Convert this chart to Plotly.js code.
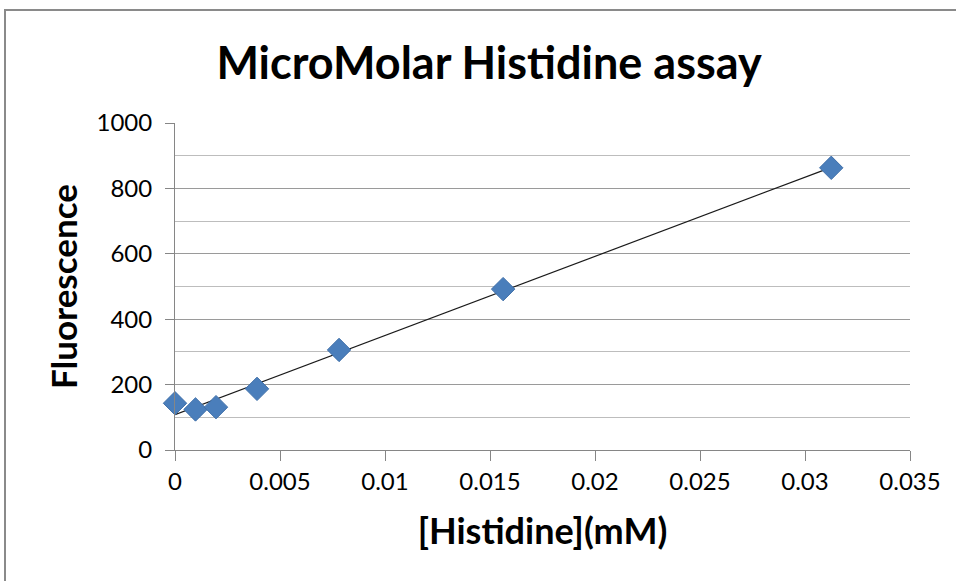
<!DOCTYPE html>
<html>
<head>
<meta charset="utf-8">
<script src="https://cdn.plot.ly/plotly-3.0.1.min.js"></script>
<style>
  html, body { margin: 0; padding: 0; width: 956px; height: 581px; overflow: hidden; background: #fff; }
  #chart { position: absolute; left: 0; top: 0; width: 956px; height: 581px; }
  #frame { position: absolute; left: 4px; top: 9px; width: 1100px; height: 800px;
           border-left: 2px solid #8a8a8a; border-top: 2px solid #8a8a8a; pointer-events: none; }
</style>
</head>
<body>
<div id="chart"></div>
<div id="frame"></div>
<script>
// Data
const histidineMM = [0, 0.0009766, 0.001953, 0.003906, 0.0078125, 0.015625, 0.03125];
const fluorescence = [143, 124, 131, 187, 306, 492, 863];
const xTickVals = [0, 0.005, 0.01, 0.015, 0.02, 0.025, 0.03, 0.035];
const xTickText = ['0', '0.005', '0.01', '0.015', '0.02', '0.025', '0.03', '0.035'];
const yTickVals = [0, 200, 400, 600, 800, 1000];

// Linear least-squares trendline through the data
const n = histidineMM.length;
const mx = histidineMM.reduce((a, b) => a + b, 0) / n;
const my = fluorescence.reduce((a, b) => a + b, 0) / n;
let sxy = 0, sxx = 0;
for (let i = 0; i < n; i++) {
  sxy += (histidineMM[i] - mx) * (fluorescence[i] - my);
  sxx += (histidineMM[i] - mx) ** 2;
}
const slope = sxy / sxx;
const intercept = my - slope * mx;
const trendX = [Math.min(...histidineMM), Math.max(...histidineMM)];
const trendY = trendX.map(x => intercept + slope * x);

const FONT = 'Lato, "Open Sans", sans-serif';

const traces = [
  {
    x: trendX, y: trendY, type: 'scatter', mode: 'lines',
    line: { color: '#1a1a1a', width: 1.2 },
    showlegend: false, hoverinfo: 'skip'
  },
  {
    x: histidineMM, y: fluorescence, type: 'scatter', mode: 'markers',
    cliponaxis: false,
    marker: { symbol: 'diamond', size: 18, color: '#4a7ebb', line: { color: '#3f6fa9', width: 1 } },
    showlegend: false, hoverinfo: 'x+y'
  }
];

const layout = {
  width: 956, height: 581,
  margin: { l: 175, r: 46, t: 123, b: 131 },
  paper_bgcolor: '#ffffff', plot_bgcolor: '#ffffff',
  font: { family: FONT, color: '#000' },
  title: {
    text: '<b>MicroMolar Histidine assay</b>',
    font: { family: FONT, size: 45, color: '#000' },
    xref: 'container', x: 489 / 956, xanchor: 'center',
    yref: 'container', y: 1 - 63 / 581, yanchor: 'middle'
  },
  xaxis: {
    range: [0, 0.035], tickmode: 'array', tickvals: xTickVals, ticktext: xTickText,
    showgrid: false, zeroline: false,
    showline: true, linecolor: '#868686', linewidth: 1,
    ticks: 'outside', ticklen: 10, tickcolor: '#868686', tickwidth: 1,
    tickfont: { family: FONT, size: 24, color: '#000' },
    title: { text: '<b>[Histidine](mM)</b>', font: { family: FONT, size: 36, color: '#000' }, standoff: 25 },
    fixedrange: true
  },
  yaxis: {
    range: [0, 1000], tickmode: 'array', tickvals: yTickVals,
    showgrid: true, gridcolor: '#9a9a9a', gridwidth: 1, zeroline: false,
    showline: true, linecolor: '#868686', linewidth: 1,
    ticks: 'outside', ticklen: 9, tickcolor: '#868686', tickwidth: 1,
    ticklabelstandoff: 8,
    tickfont: { family: FONT, size: 24, color: '#000' },
    minor: { dtick: 100, tick0: 0, showgrid: true, gridcolor: '#bdbdbd', gridwidth: 1, ticks: '' },
    title: { text: '<b>Fluorescence</b>', font: { family: FONT, size: 35, color: '#000' }, standoff: 8 },
    fixedrange: true
  },
  hovermode: 'closest'
};

Plotly.newPlot('chart', traces, layout, { displayModeBar: false });
</script>
</body>
</html>
